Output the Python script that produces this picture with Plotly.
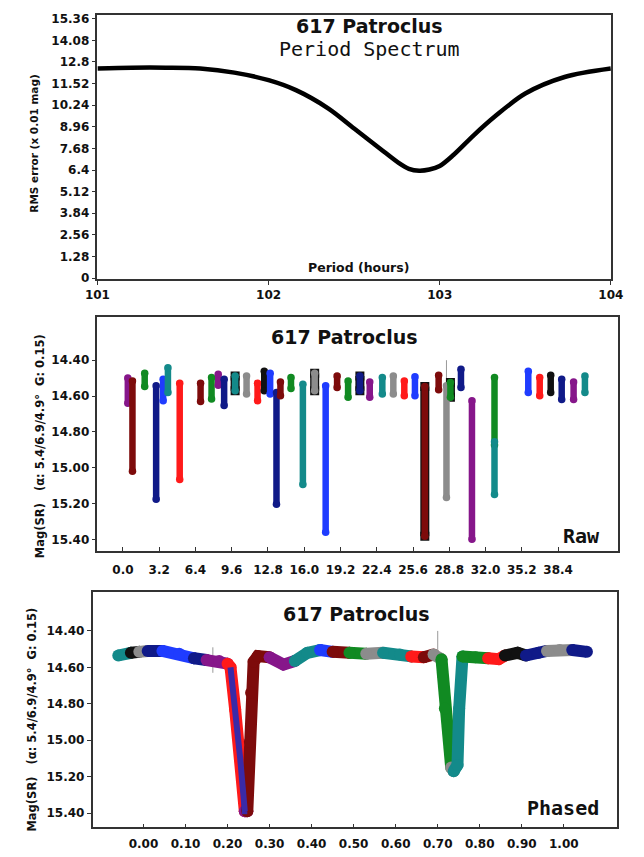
import plotly.graph_objects as go

W, H = 644, 857

# ---------------- Period spectrum (top) ----------------
period_hours = [101.0, 101.2, 101.4, 101.6, 101.8, 102.0, 102.16, 102.35, 102.5, 102.65,
                102.76, 102.82, 102.88, 102.94, 103.0, 103.08, 103.2, 103.32, 103.5, 103.73, 104.0]
rms_error = [12.42, 12.46, 12.46, 12.41, 12.17, 11.72, 11.13, 10.04, 8.86, 7.68,
             6.82, 6.47, 6.36, 6.43, 6.64, 7.29, 8.47, 9.55, 10.93, 11.91, 12.41]
top_yticks = [0, 1.28, 2.56, 3.84, 5.12, 6.4, 7.68, 8.96, 10.24, 11.52, 12.8, 14.08, 15.36]
top_yticktext = ["0", "1.28", "2.56", "3.84", "5.12", "6.4", "7.68", "8.96", "10.24",
                 "11.52", "12.8", "14.08", "15.36"]
top_xticks = [101, 102, 103, 104]

# ---------------- Raw sessions (middle) ----------------
raw_day = [0.43, 0.84, 1.92, 2.93, 3.55, 3.97, 5.01, 6.85, 7.82, 8.41, 8.93, 9.9, 10.91,
           11.88, 12.47, 12.99, 13.55, 13.9, 14.83, 15.88, 16.92, 17.89, 18.9, 19.87,
           20.91, 21.78, 22.89, 23.86, 24.83, 25.77, 26.64, 27.86, 28.55, 28.9, 29.83,
           30.8, 32.79, 32.79, 35.77, 36.78, 37.75, 38.72, 39.77, 40.77]
raw_mag_top = [14.50, 14.516, 14.473, 14.543, 14.506, 14.442, 14.528, 14.528, 14.497, 14.479,
               14.506, 14.488, 14.488, 14.528, 14.461, 14.473, 14.58, 14.521, 14.497, 14.534,
               14.473, 14.543, 14.488, 14.516, 14.488, 14.521, 14.497, 14.488, 14.516, 14.492,
               14.547, 14.484, 14.543, 14.525, 14.451, 14.626, 14.497, 14.855, 14.461, 14.497,
               14.484, 14.506, 14.521, 14.488]
raw_mag_bottom = [14.64, 15.02, 14.547, 15.176, 14.626, 14.58, 15.066, 14.631, 14.616, 14.54,
                  14.653, 14.571, 14.589, 14.626, 14.571, 14.589, 15.204, 14.598, 14.558, 15.094,
                  14.571, 15.36, 14.552, 14.607, 14.571, 14.607, 14.589, 14.589, 14.598, 14.598,
                  15.383, 14.565, 15.167, 14.607, 14.552, 15.40, 14.873, 15.149, 14.58, 14.598,
                  14.58, 14.62, 14.62, 14.58]
raw_color = ["purple", "maroon", "green", "navy", "blue", "teal", "red", "maroon", "green", "purple",
             "navy", "teal", "gray", "red", "black", "blue", "navy", "maroon", "green", "teal",
             "gray", "blue", "maroon", "green", "navy", "purple", "teal", "gray", "red", "blue",
             "maroon", "maroon", "gray", "green", "navy", "purple", "green", "teal", "blue", "red",
             "black", "navy", "purple", "teal"]
raw_edged = [0, 0, 0, 0, 0, 0, 0, 0, 0, 0,
             0, 1, 0, 0, 0, 0, 0, 0, 0, 0,
             1, 0, 0, 0, 1, 0, 0, 0, 0, 0,
             1, 0, 0, 1, 0, 0, 0, 0, 0, 0,
             0, 0, 0, 0]
raw_xticks = [0.0, 3.2, 6.4, 9.6, 12.8, 16.0, 19.2, 22.4, 25.6, 28.8, 32.0, 35.2, 38.4]
raw_xticktext = ["0.0", "3.2", "6.4", "9.6", "12.8", "16.0", "19.2", "22.4", "25.6",
                 "28.8", "32.0", "35.2", "38.4"]
raw_errbar_day = [28.55]
raw_errbar_top = [14.40]
raw_errbar_bottom = [14.60]

# ---------------- Phased light curve (bottom) ----------------
phase = [-0.06, -0.03, -0.01, 0.01, 0.045, 0.085, 0.12, 0.15, 0.18, 0.20, 0.207,
         0.218, 0.230, 0.241, 0.247, 0.253, 0.256, 0.262, 0.272, 0.30, 0.333, 0.36,
         0.39, 0.42, 0.45, 0.49, 0.53, 0.57, 0.61, 0.637, 0.667, 0.69, 0.709, 0.717,
         0.732, 0.738, 0.747, 0.751, 0.759, 0.79, 0.82, 0.845, 0.86, 0.89, 0.91,
         0.94, 0.96, 0.99, 1.02, 1.055]
phased_mag = [14.535, 14.52, 14.515, 14.51, 14.51, 14.525, 14.55, 14.56, 14.565, 14.58, 14.60,
              14.83, 15.10, 15.39, 15.39, 15.01, 14.74, 14.57, 14.538, 14.545, 14.585, 14.565,
              14.52, 14.505, 14.515, 14.52, 14.525, 14.52, 14.53, 14.54, 14.545, 14.53, 14.555, 14.826,
              15.15, 15.17, 15.136, 14.826, 14.54, 14.545, 14.55, 14.555, 14.535, 14.52, 14.535,
              14.52, 14.51, 14.505, 14.505, 14.515]
# colour of the segment that starts at each point
phased_color = ["teal", "black", "gray", "navy", "blue", "blue", "navy", "purple", "purple", "red",
                "red", "red", "red", "purple", "maroon", "maroon", "maroon", "maroon", "maroon", "purple",
                "purple", "teal", "teal", "blue", "maroon", "green", "gray", "teal", "teal", "red",
                "maroon", "gray", "green", "green", "gray", "teal", "teal", "teal", "green", "green",
                "red", "red", "black", "black", "navy", "navy", "gray", "gray", "navy", "navy"]
phased_errbar_phase = [0.70, 0.165]
phased_errbar_top = [14.40, 14.49]
phased_errbar_bottom = [14.66, 14.63]
phase_ticks = [0.0, 0.1, 0.2, 0.3, 0.4, 0.5, 0.6, 0.7, 0.8, 0.9, 1.0]
phase_ticktext = ["0.00", "0.10", "0.20", "0.30", "0.40", "0.50", "0.60", "0.70", "0.80", "0.90", "1.00"]
mag_ticks = [14.4, 14.6, 14.8, 15.0, 15.2, 15.4]
mag_ticktext = ["14.40", "14.60", "14.80", "15.00", "15.20", "15.40"]
mag_minor = [14.4, 14.5, 14.6, 14.7, 14.8, 14.9, 15.0, 15.1, 15.2, 15.3, 15.4]

PALETTE = {"black": "#111111", "maroon": "#7d0b0b", "red": "#ff1a1a", "green": "#118a22",
           "teal": "#138a8a", "navy": "#101a88", "blue": "#1f3cff", "purple": "#86168a",
           "gray": "#8c8c8c"}

fig = go.Figure()

# top curve
fig.add_trace(go.Scatter(x=period_hours, y=rms_error, mode="lines",
                         line=dict(color="black", width=4.5, shape="spline", smoothing=0.9),
                         xaxis="x", yaxis="y", hoverinfo="skip"))

# raw: error bars
for d, t, b in zip(raw_errbar_day, raw_errbar_top, raw_errbar_bottom):
    fig.add_trace(go.Scatter(x=[d, d], y=[t, b], mode="lines", line=dict(color="#999", width=1),
                             xaxis="x2", yaxis="y2", hoverinfo="skip"))
# raw: black edges
for d, t, b, e in zip(raw_day, raw_mag_top, raw_mag_bottom, raw_edged):
    if e:
        fig.add_trace(go.Scatter(x=[d, d], y=[t, b], mode="lines+markers",
                                 line=dict(color="#111", width=9),
                                 marker=dict(color="#111", size=9, symbol="square"),
                                 xaxis="x2", yaxis="y2", hoverinfo="skip"))
# raw: sessions
for d, t, b, c in zip(raw_day, raw_mag_top, raw_mag_bottom, raw_color):
    fig.add_trace(go.Scatter(x=[d, d], y=[t, b], mode="lines+markers",
                             line=dict(color=PALETTE[c], width=6.5),
                             marker=dict(color=PALETTE[c], size=7.5, symbol="circle"),
                             xaxis="x2", yaxis="y2", hoverinfo="skip"))

# phased: error bars
for p, t, b in zip(phased_errbar_phase, phased_errbar_top, phased_errbar_bottom):
    fig.add_trace(go.Scatter(x=[p, p], y=[t, b], mode="lines", line=dict(color="#999", width=1),
                             xaxis="x3", yaxis="y3", hoverinfo="skip"))
# phased: coloured runs (round joints via markers)
LW = 12
i = 0
n = len(phase)
while i < n - 1:
    j = i
    while j + 1 < n - 1 and phased_color[j + 1] == phased_color[i]:
        j += 1
    xs = phase[i:j + 2]
    ys = phased_mag[i:j + 2]
    col = PALETTE[phased_color[i]]
    fig.add_trace(go.Scatter(x=xs, y=ys, mode="lines+markers",
                             line=dict(color=col, width=LW),
                             marker=dict(color=col, size=LW, symbol="circle", line=dict(width=0)),
                             xaxis="x3", yaxis="y3", hoverinfo="skip"))
    i = j + 1
# navy/purple inner stripe on the primary dip's descending wall
fig.add_trace(go.Scatter(x=phase[10:15], y=phased_mag[10:15], mode="lines",
                         line=dict(color="#3a2aa8", width=6),
                         xaxis="x3", yaxis="y3", hoverinfo="skip"))


def dom_x(a, b):
    return [a / W, b / W]


def dom_y(top, bottom):
    return [1 - bottom / H, 1 - top / H]


FONT = "DejaVu Sans"
tickfont = dict(family=FONT, size=12, color="#111", weight="bold")
base = dict(showline=True, linecolor="#333", linewidth=1.5, mirror=True, showgrid=False,
            zeroline=False, tickfont=tickfont, tickcolor="#333", ticklen=4, tickwidth=1)
over = dict(showline=False, showgrid=False, zeroline=False, showticklabels=False,
            ticks="inside", ticklen=5, tickcolor="#444", tickwidth=1)

layout = dict(
    width=W, height=H, autosize=False, margin=dict(l=0, r=0, t=0, b=0),
    paper_bgcolor="white", plot_bgcolor="white", showlegend=False,
    xaxis=dict(base, domain=dom_x(88, 623), anchor="y", range=[101.0, 104.0],
               tickvals=top_xticks, ticktext=[str(v) for v in top_xticks], ticks="outside"),
    yaxis=dict(base, domain=dom_y(12, 279), anchor="x", range=[-0.06, 15.59],
               tickvals=top_yticks, ticktext=top_yticktext, ticks="outside"),
    xaxis2=dict(base, domain=dom_x(88, 630), anchor="y2", range=[-2.25, 43.65],
                tickvals=raw_xticks, ticktext=raw_xticktext, ticks="inside",
                ticklabelstandoff=7),
    yaxis2=dict(base, domain=dom_y(317, 554), anchor="x2", range=[15.466, 14.157],
                tickvals=mag_ticks, ticktext=mag_ticktext, ticks="outside"),
    xaxis4=dict(over, overlaying="x2", anchor="y2", side="top", range=[-2.25, 43.65],
                tickvals=raw_xticks),
    yaxis4=dict(over, overlaying="y2", anchor="x2", side="right", range=[15.466, 14.157],
                tickvals=mag_minor),
    xaxis3=dict(base, domain=dom_x(83, 629), anchor="y3", range=[-0.121, 1.1256],
                tickvals=phase_ticks, ticktext=phase_ticktext, ticks="inside",
                ticklabelstandoff=5),
    yaxis3=dict(base, domain=dom_y(595, 833), anchor="x3", range=[15.478, 14.185],
                tickvals=mag_ticks, ticktext=mag_ticktext, ticks="outside"),
    xaxis5=dict(over, overlaying="x3", anchor="y3", side="top", range=[-0.121, 1.1256],
                tickvals=phase_ticks),
    yaxis5=dict(over, overlaying="y3", anchor="x3", side="right", range=[15.478, 14.185],
                tickvals=mag_minor),
)
fig.update_layout(**layout)


def ann(text, x, y, size, family=FONT, bold=True, angle=0, color="#111"):
    fig.add_annotation(text=text, x=x / W, y=1 - y / H, xref="paper", yref="paper",
                       showarrow=False, textangle=angle, xanchor="center", yanchor="middle",
                       font=dict(family=family, size=size, color=color,
                                 weight="bold" if bold else "normal"))


ann("617 Patroclus", 371, 23, 19)
ann("Period Spectrum", 371, 46, 20, family="DejaVu Sans Mono", bold=False)
ann("Period (hours)", 360, 267, 12.5)
ann("RMS error (x 0.01 mag)", 21, 142, 10.5, angle=-90)

ann("617 Patroclus", 345, 338, 19)
ann("Raw", 592, 539, 20, family="DejaVu Sans Mono")
ann("Mag(SR)\u00a0\u00a0\u00a0(\u03b1: 5.4/6.9/4.9\u00b0\u00a0\u00a0G: 0.15)", 28, 448, 11.5, angle=-90)

ann("617 Patroclus", 358, 617, 19)
ann("Phased", 573, 814, 20, family="DejaVu Sans Mono")
ann("Mag(SR)\u00a0\u00a0\u00a0(\u03b1: 5.4/6.9/4.9\u00b0\u00a0\u00a0G: 0.15)", 20, 724, 11.5, angle=-90)

fig.write_html("out.html", config={"displayModeBar": False},
               post_script="document.body.style.margin='0';")
